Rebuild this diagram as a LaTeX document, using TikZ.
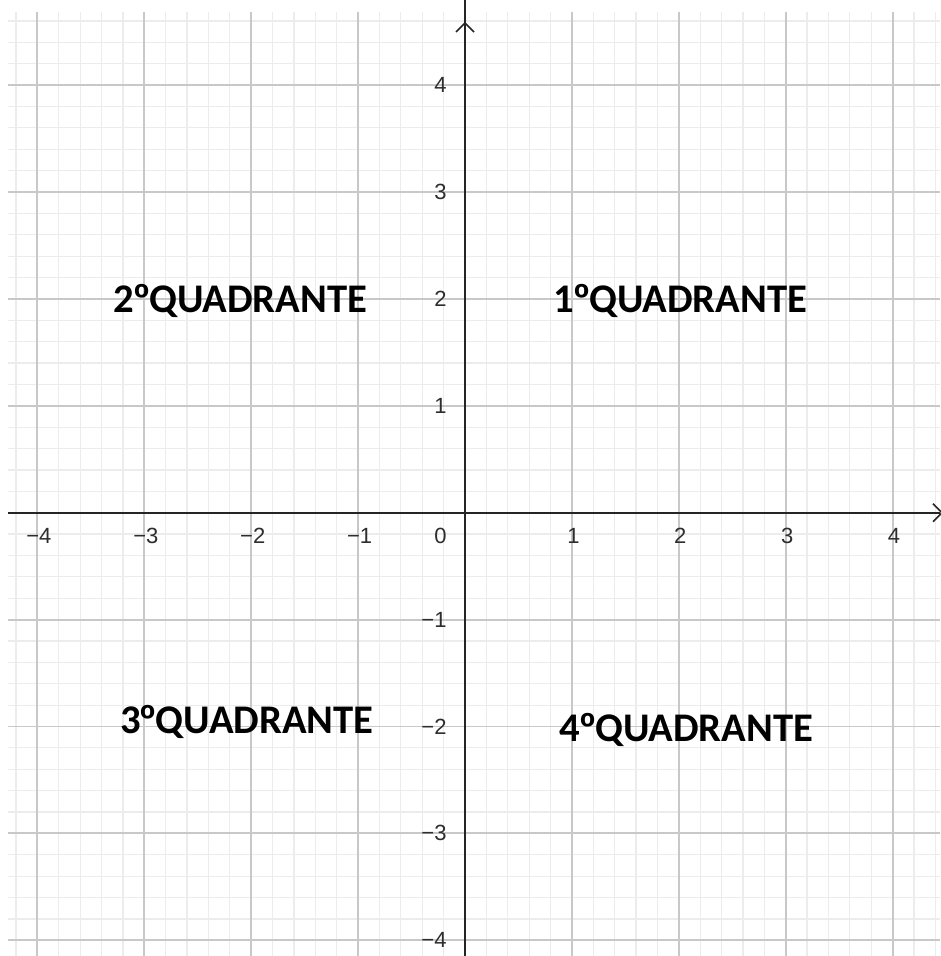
\documentclass[tikz,border=0pt]{standalone}
\usepackage{fontspec}
\setmainfont{Liberation Sans}
\newfontfamily\quadfont{Carlito}
\newfontfamily\ordfont{Liberation Sans}

\tikzset{every picture/.style={line width=0.75pt}}
\tikzset{
  minorgrid/.style={draw={rgb, 255:red, 236; green, 236; blue, 236}, line width=0.9pt},
  majorgrid/.style={draw={rgb, 255:red, 200; green, 200; blue, 200}, line width=1.4pt},
  axisline/.style={draw={rgb, 255:red, 37; green, 37; blue, 37}, line width=1.7pt},
  ticklabel/.style={inner sep=0.75pt, color={rgb, 255:red, 45; green, 45; blue, 45}, font=\fontsize{16.5}{19}\selectfont},
  quadlabel/.style={inner sep=0.75pt, font=\quadfont\bfseries\fontsize{30.5}{34}\selectfont},
}
\newcommand{\ordo}{{\ordfont\bfseries º}}

\begin{document}
\begin{tikzpicture}[x=0.75pt,y=0.75pt,yscale=-1,xscale=1]
  \useasboundingbox (0,0) rectangle (940,956);
  \fill[white] (0,0) rectangle (940,956);
  %Minor grid
  \foreach \i in {-21,...,22}
    \draw[minorgrid] ({465+\i*21.38},12) -- ({465+\i*21.38},956);
  \foreach \j in {-23,...,20}
    \draw[minorgrid] (8,{512.7+\j*21.38}) -- (940,{512.7+\j*21.38});
  %Major grid
  \foreach \k in {-4,...,4} {
    \draw[majorgrid] ({465+\k*106.9},12) -- ({465+\k*106.9},956);
    \draw[majorgrid] (8,{512.7+\k*106.9}) -- (940,{512.7+\k*106.9});
  }

  %Axes
  \coordinate (xleft) at (8,512.7);
  \coordinate (xright) at (940,512.7);
  \coordinate (xtip) at (942,512.7);
  \coordinate (ytop) at (465,0);
  \coordinate (ybottom) at (465,956);
  \coordinate (ytip) at (465,23);
  \draw[axisline] (xleft) -- (xright);
  \draw[axisline] (ybottom) -- (ytop);
  \draw[axisline, line width=1.2pt] (ytip) ++(-9,9) -- (ytip) -- ++(9,9);
  \draw[axisline, line width=1.2pt] (xtip) ++(-9,-9) -- (xtip) -- ++(-9,9);

  % Tick labels
  \foreach \k/\t [count=\n] in {-4/−4,-3/−3,-2/−2,-1/−1,1/1,2/2,3/3,4/4} {
    \node[ticklabel] (xl\n) at ({466.5+\k*106.9},536) {\t};
    \node[ticklabel, anchor=east] (yl\n) at (448,{512.7-\k*106.9}) {\t};
  }
  \node[ticklabel, anchor=east] (zero) at (448,536) {0};

  % Text Node
  \node[quadlabel] (q1) at (680.5,300.5) {1\ordo QUADRANTE};
  % Text Node
  \node[quadlabel] (q2) at (240.5,300.5) {2\ordo QUADRANTE};
  % Text Node
  \node[quadlabel] (q3) at (247,722) {3\ordo QUADRANTE};
  % Text Node
  \node[quadlabel] (q4) at (686.5,729.5) {4\ordo QUADRANTE};
\end{tikzpicture}
\end{document}
